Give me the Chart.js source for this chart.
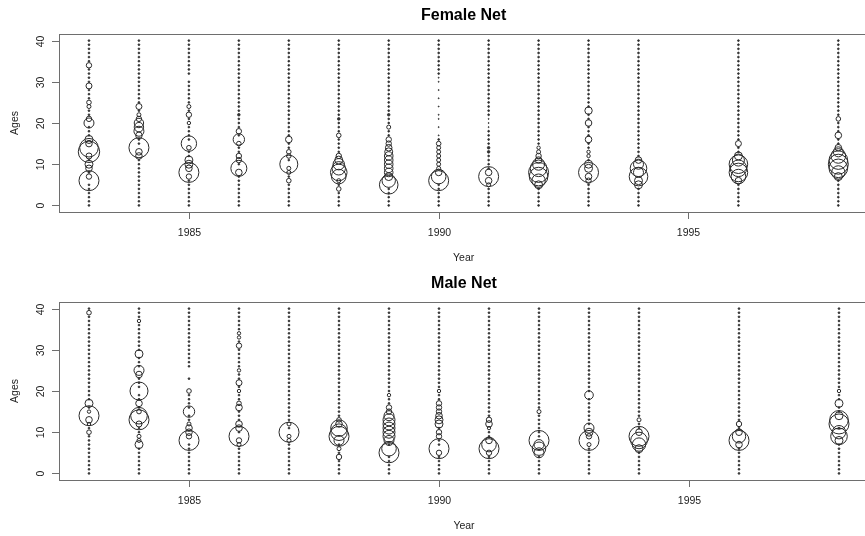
<!DOCTYPE html>
<html>
<head>
<meta charset="utf-8">
<script src="https://cdn.jsdelivr.net/npm/chart.js@4.4.1/dist/chart.umd.min.js"></script>
<style>
    body { margin: 0; overflow: hidden; background: #fff; }
    .panel { width: 880px; height: 268px; }
</style>
</head>
<body>
<div class="panel"><canvas id="femaleChart" width="880" height="268"></canvas></div>
<div class="panel"><canvas id="maleChart" width="880" height="268"></canvas></div>
<script>
const years = [1983, 1984, 1985, 1986, 1987, 1988, 1989, 1990, 1991, 1992, 1993, 1994, 1996, 1998];
const ages = [0, 1, 2, 3, 4, 5, 6, 7, 8, 9, 10, 11, 12, 13, 14, 15, 16, 17, 18, 19, 20,
    21, 22, 23, 24, 25, 26, 27, 28, 29, 30, 31, 32, 33, 34, 35, 36, 37, 38, 39, 40];
const xTicks = [1985, 1990, 1995];
const yTicks = [0, 10, 20, 30, 40];

// relative bubble size (1 = largest) for the ages that stand out, per year
const femaleSizes = [
    [[6, 1.0], [7, 0.27], [9, 0.33], [10, 0.4], [12, 0.3], [13, 1.07], [14, 0.93], [15, 0.33], [16, 0.4], [20, 0.5], [21, 0.27], [24, 0.2], [25, 0.23], [29, 0.3], [34, 0.27]],
    [[12, 0.33], [13, 0.33], [14, 1.0], [17, 0.33], [18, 0.5], [19, 0.47], [20, 0.47], [21, 0.27], [22, 0.2], [24, 0.3]],
    [[7, 0.27], [8, 1.0], [9, 0.33], [10, 0.4], [11, 0.4], [14, 0.23], [15, 0.77], [20, 0.17], [22, 0.27], [24, 0.2]],
    [[8, 0.33], [9, 0.8], [11, 0.27], [12, 0.27], [15, 0.23], [16, 0.57], [18, 0.27], [22, 0.13]],
    [[6, 0.23], [8, 0.2], [9, 0.2], [10, 0.9], [12, 0.23], [13, 0.23], [16, 0.33]],
    [[4, 0.23], [6, 0.2], [7, 0.73], [8, 0.83], [9, 0.67], [10, 0.57], [11, 0.4], [12, 0.27], [17, 0.23], [21, 0.13]],
    [[5, 0.93], [6, 0.67], [7, 0.4], [8, 0.43], [9, 0.43], [10, 0.43], [11, 0.43], [12, 0.43], [13, 0.4], [14, 0.33], [15, 0.27], [16, 0.27], [19, 0.2], [22, 0.13]],
    [[6, 1.0], [7, 0.73], [8, 0.33], [9, 0.2], [10, 0.2], [11, 0.2], [12, 0.2], [13, 0.2], [14, 0.2], [15, 0.23], [17, 0.05], [19, 0.05], [21, 0.05], [22, 0.05], [24, 0.05], [26, 0.05], [28, 0.05], [30, 0.05], [31, 0.05]],
    [[5, 0.2], [6, 0.33], [7, 1.0], [8, 0.33], [13, 0.13], [14, 0.13], [19, 0.05], [20, 0.05], [21, 0.05]],
    [[5, 0.4], [6, 0.67], [7, 0.93], [8, 1.0], [9, 0.83], [10, 0.6], [11, 0.33], [12, 0.27], [13, 0.2], [14, 0.17]],
    [[6, 0.27], [7, 0.33], [8, 1.0], [9, 0.4], [10, 0.4], [12, 0.17], [13, 0.17], [16, 0.33], [20, 0.33], [23, 0.37]],
    [[5, 0.4], [6, 0.4], [7, 0.93], [8, 0.5], [9, 0.83], [10, 0.5], [11, 0.33]],
    [[6, 0.33], [7, 0.73], [8, 0.93], [9, 0.83], [10, 0.93], [11, 0.6], [12, 0.4], [15, 0.3]],
    [[7, 0.4], [8, 0.67], [9, 0.93], [10, 1.0], [11, 0.93], [12, 0.73], [13, 0.5], [14, 0.33], [17, 0.33], [21, 0.23]]
];
const femaleGaps = [[], [], [31], [], [], [], [], [18, 20, 23, 25, 27, 29], [], [], [], [], [], []];

const maleSizes = [
    [[10, 0.23], [12, 0.17], [13, 0.33], [14, 1.0], [15, 0.17], [17, 0.4], [39, 0.23]],
    [[7, 0.4], [8, 0.2], [9, 0.2], [12, 0.3], [13, 1.0], [14, 0.83], [15, 0.23], [17, 0.33], [20, 0.9], [24, 0.33], [25, 0.5], [29, 0.4], [37, 0.17]],
    [[8, 1.0], [9, 0.27], [10, 0.33], [11, 0.33], [12, 0.2], [15, 0.57], [20, 0.23]],
    [[7, 0.2], [8, 0.27], [9, 1.0], [11, 0.33], [12, 0.33], [16, 0.33], [17, 0.23], [20, 0.17], [22, 0.3], [25, 0.17], [31, 0.27], [33, 0.17], [34, 0.17]],
    [[8, 0.2], [9, 0.2], [10, 1.0], [12, 0.2]],
    [[4, 0.27], [6, 0.2], [8, 0.5], [9, 1.0], [10, 0.83], [11, 0.83], [12, 0.33], [13, 0.23]],
    [[5, 1.0], [6, 0.73], [8, 0.5], [9, 0.6], [10, 0.6], [11, 0.6], [12, 0.6], [13, 0.6], [14, 0.5], [15, 0.27], [16, 0.27], [19, 0.17]],
    [[5, 0.27], [6, 1.0], [9, 0.27], [10, 0.27], [12, 0.4], [13, 0.4], [14, 0.33], [15, 0.27], [16, 0.27], [17, 0.27], [20, 0.17]],
    [[5, 0.27], [6, 1.0], [7, 0.73], [8, 0.33], [11, 0.17], [12, 0.33], [13, 0.27]],
    [[5, 0.5], [6, 0.67], [7, 0.5], [8, 1.0], [15, 0.2]],
    [[7, 0.2], [8, 1.0], [9, 0.27], [10, 0.4], [11, 0.5], [19, 0.43]],
    [[6, 0.4], [7, 0.67], [8, 0.83], [9, 1.0], [10, 0.33], [13, 0.2]],
    [[7, 0.33], [8, 1.0], [9, 0.67], [10, 0.33], [12, 0.27]],
    [[8, 0.4], [9, 0.83], [10, 0.67], [12, 1.0], [13, 0.93], [14, 0.4], [17, 0.4], [20, 0.17]]
];
const maleGaps = [[], [], [21, 22, 24, 25], [], [], [], [], [], [], [], [], [], [], []];

const dotSize = 0.09;    // the tiny dots every age gets
const maxRadius = 10;    // px for size 1.0
const font = '"Liberation Sans", Arial, sans-serif';

function buildPoints(sizes, gaps) {
    const pts = [];
    years.forEach((yr, i) => {
        const lookup = new Map(sizes[i]);
        ages.forEach(a => {
            if (gaps[i].includes(a)) return;
            const s = lookup.has(a) ? lookup.get(a) : dotSize;
            pts.push({ x: yr, y: a, r: s * maxRadius });
        });
    });
    return pts;
}

// R-style box, axes and labels
const rAxes = {
    id: 'rAxes',
    afterDraw(chart, args, opts) {
        const { ctx, chartArea: ca, scales } = chart;
        const x = scales.x, y = scales.y;
        ctx.save();
        ctx.strokeStyle = '#6e6e6e';
        ctx.lineWidth = 1;
        ctx.strokeRect(Math.round(ca.left) + 0.5, Math.round(ca.top) + 0.5,
            Math.round(ca.right - ca.left), Math.round(ca.bottom - ca.top));

        ctx.fillStyle = '#222';
        ctx.font = '10.5px ' + font;

        // x ticks
        ctx.textAlign = 'center';
        ctx.textBaseline = 'middle';
        xTicks.forEach(t => {
            const px = Math.round(x.getPixelForValue(t)) + 0.5;
            ctx.beginPath();
            ctx.moveTo(px, ca.bottom);
            ctx.lineTo(px, ca.bottom + 7);
            ctx.stroke();
            ctx.fillText(String(t), px, ca.bottom + 21);
        });

        // y ticks (rotated labels)
        yTicks.forEach(t => {
            const py = Math.round(y.getPixelForValue(t)) + 0.5;
            ctx.beginPath();
            ctx.moveTo(ca.left - 7, py);
            ctx.lineTo(ca.left, py);
            ctx.stroke();
            ctx.save();
            ctx.translate(ca.left - 18, py);
            ctx.rotate(-Math.PI / 2);
            ctx.fillText(String(t), 0, 0);
            ctx.restore();
        });

        const midX = (ca.left + ca.right) / 2;
        const midY = (ca.top + ca.bottom) / 2;
        ctx.fillText('Year', midX, ca.bottom + 46);
        ctx.save();
        ctx.translate(15, midY);
        ctx.rotate(-Math.PI / 2);
        ctx.fillText('Ages', 0, 0);
        ctx.restore();

        ctx.font = 'bold 16px ' + font;
        ctx.fillStyle = '#000';
        ctx.fillText(opts.title, midX, 16);
        ctx.restore();
    }
};

function renderPanel(id, title, sizes, gaps) {
    const ctx = document.getElementById(id).getContext('2d');
    new Chart(ctx, {
        type: 'bubble',
        data: {
            datasets: [{
                data: buildPoints(sizes, gaps),
                // tiny dots come out solid in the original, the rest are open circles
                backgroundColor: c => (c.raw && c.raw.r < 1.5) ? '#333' : 'rgba(0,0,0,0)',
                borderColor: '#2a2a2a',
                borderWidth: c => (c.raw && c.raw.r < 1.5) ? 0.8 : 1,
                hoverRadius: 0
            }]
        },
        options: {
            responsive: false,
            devicePixelRatio: 1,
            animation: false,
            events: [],
            layout: { padding: { left: 59, right: 9, top: 34, bottom: 56 } },
            plugins: {
                legend: { display: false },
                tooltip: { enabled: false },
                rAxes: { title }
            },
            scales: {
                x: { type: 'linear', min: 1982.4, max: 1998.6, display: false },
                y: { type: 'linear', min: -1.6, max: 41.6, display: false }
            },
            clip: false
        },
        plugins: [rAxes]
    });
}

document.addEventListener("DOMContentLoaded", () => {
    renderPanel('femaleChart', 'Female Net', femaleSizes, femaleGaps);
    renderPanel('maleChart', 'Male Net', maleSizes, maleGaps);
});
</script>
</body>
</html>
